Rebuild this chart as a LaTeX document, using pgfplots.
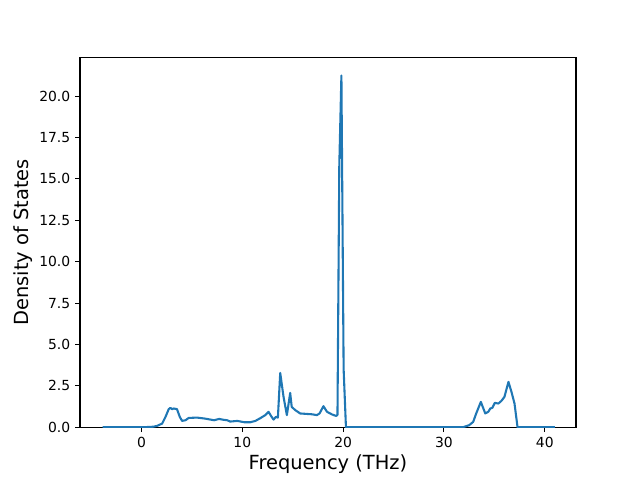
\documentclass[border=0pt]{standalone}
\usepackage{pgfplots}
\pgfplotsset{compat=1.18}
\usepackage{fontspec}
\setmainfont{DejaVu Sans}
\definecolor{mplblue}{HTML}{1F77B4}

\begin{document}
\begin{tikzpicture}
	\begin{axis}[
	at={(0pt,0pt)}, anchor=south west,
	scale only axis,
	width=357.12pt, height=266.11pt,
	xmin=-6.1, xmax=43.1,
	ymin=0, ymax=22.33,
	xtick={0,10,20,30,40},
	ytick={0,2.5,5,7.5,10,12.5,15,17.5,20},
	yticklabel style={/pgf/number format/.cd, fixed, fixed zerofill, precision=1},
	/pgf/number format/assume math mode=true,
	tick align=outside, tick pos=left,
	major tick length=3.5pt,
	every tick/.style={black, line width=0.8pt},
	axis line style={line width=0.8pt},
	ticklabel style={font=\fontsize{10}{12}\selectfont},
	xlabel={Frequency (THz)},
	ylabel={Density of States},
	label style={font=\fontsize{14}{16}\selectfont},
	xlabel style={at={(axis description cs:0.5,-0.10)}, anchor=center},
	ylabel style={at={(axis description cs:-0.115,0.5)}, anchor=center},
	]
	% phonon density of states
	\addplot[color=mplblue, line width=1.5pt, line join=round] coordinates {
		(-3.86,0) (0,0) (0.6,0.01) (1.2,0.03) (1.55,0.08) (2.05,0.22) (2.38,0.62)
		(2.7,1.09) (2.87,1.17) (3.04,1.09) (3.2,1.13) (3.52,1.09) (3.8,0.62)
		(4.03,0.38) (4.36,0.42) (4.69,0.56) (5.5,0.58) (6.3,0.52) (7.2,0.42)
		(7.7,0.5) (8.1,0.45) (8.5,0.42) (8.8,0.34) (9.5,0.38) (10.2,0.3)
		(10.8,0.3) (11.3,0.38) (11.8,0.55) (12.28,0.73) (12.6,0.93) (12.87,0.66)
		(13.1,0.46) (13.33,0.62) (13.53,0.58) (13.76,3.28) (14.09,1.83)
		(14.42,0.73) (14.75,2.07) (14.9,1.23) (15.25,1.03) (15.74,0.83)
		(16.9,0.78) (17.4,0.73) (17.66,0.83) (18.05,1.27) (18.4,0.93)
		(18.9,0.77) (19.3,0.68) (19.44,0.74) (19.62,15.8) (19.83,21.25)
		(20.05,3.5) (20.28,0) (31.9,0) (32.5,0.12) (32.9,0.32) (33.2,0.83)
		(33.66,1.53) (34.1,0.83) (34.4,0.93) (34.6,1.13) (34.8,1.17)
		(35.05,1.47) (35.4,1.43) (35.7,1.59) (36.0,1.83) (36.4,2.74)
		(36.7,2.13) (37.0,1.43) (37.3,0) (41.0,0)
	};
	\end{axis}
	% figure canvas (6.4in x 4.8in)
	\path (-57.6pt,-38.02pt) rectangle (403.2pt,307.58pt);
\end{tikzpicture}
\end{document}
